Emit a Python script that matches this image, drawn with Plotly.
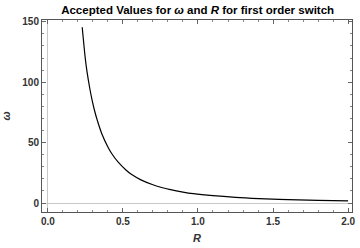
import plotly.graph_objects as go

R_vals = [0.229, 0.25, 0.261, 0.28, 0.294, 0.31, 0.331, 0.36, 0.40, 0.425, 0.47, 0.52,
          0.556, 0.62, 0.70, 0.752, 0.817, 0.90, 0.969, 1.1, 1.25, 1.405, 1.6, 1.8, 2.0]
omega_vals = [145.5, 119, 108.6, 94.4, 85.6, 77, 67.8, 57.2, 46.4, 41, 33.6, 27.4,
              23.8, 19.2, 15.1, 13.1, 11.1, 9.1, 7.8, 6.1, 4.7, 3.7, 2.8, 2.2, 1.8]
x_ticks = [0.0, 0.5, 1.0, 1.5, 2.0]
x_tick_labels = ["0.0", "0.5", "1.0", "1.5", "2.0"]
y_ticks = [0, 50, 100, 150]

fig = go.Figure()
fig.add_trace(go.Scatter(x=R_vals, y=omega_vals, mode="lines",
                         line=dict(color="black", width=1.2, shape="spline", smoothing=1.0),
                         showlegend=False))

tickfont = dict(family="Liberation Sans", size=10, color="#333", weight="bold")
fig.update_layout(
    width=360, height=248,
    margin=dict(l=39, r=5, t=20, b=35),
    paper_bgcolor="white", plot_bgcolor="white",
    title=dict(text="Accepted Values for <i>ω</i> and <i>R</i> for first order switch",
               x=0.549, xanchor="center", xref="container",
               y=0.958, yanchor="middle", yref="container", pad=dict(t=0, b=0),
               font=dict(family="Liberation Sans", size=11.5, color="black", weight="bold")),
    xaxis=dict(range=[-0.039, 2.026], tickvals=x_ticks, ticktext=x_tick_labels,
               ticks="inside", ticklen=4, tickcolor="#666", mirror="allticks",
               showline=True, linecolor="#555", linewidth=1, showgrid=False,
               zeroline=True, zerolinecolor="#c8c8c8", zerolinewidth=1,
               tickfont=tickfont,
               minor=dict(dtick=0.1, ticks="inside", ticklen=2, tickcolor="#888"),
               title=dict(text="<i>R</i>", standoff=8,
                          font=dict(family="Liberation Sans", size=11, color="#333", weight="bold"))),
    yaxis=dict(range=[-7.4, 151.5], tickvals=y_ticks,
               ticks="inside", ticklen=4, tickcolor="#666", mirror="allticks",
               showline=True, linecolor="#555", linewidth=1, showgrid=False,
               zeroline=True, zerolinecolor="#c8c8c8", zerolinewidth=1,
               tickfont=tickfont,
               minor=dict(dtick=10, ticks="inside", ticklen=2, tickcolor="#888"),
               title=dict(text="<i>ω</i>", standoff=10,
                          font=dict(family="Liberation Sans", size=11, color="#333", weight="bold"))),
)
fig.write_html("out.html", config={"displayModeBar": False},
               post_script="document.body.style.margin='0';document.body.style.padding='0';")
